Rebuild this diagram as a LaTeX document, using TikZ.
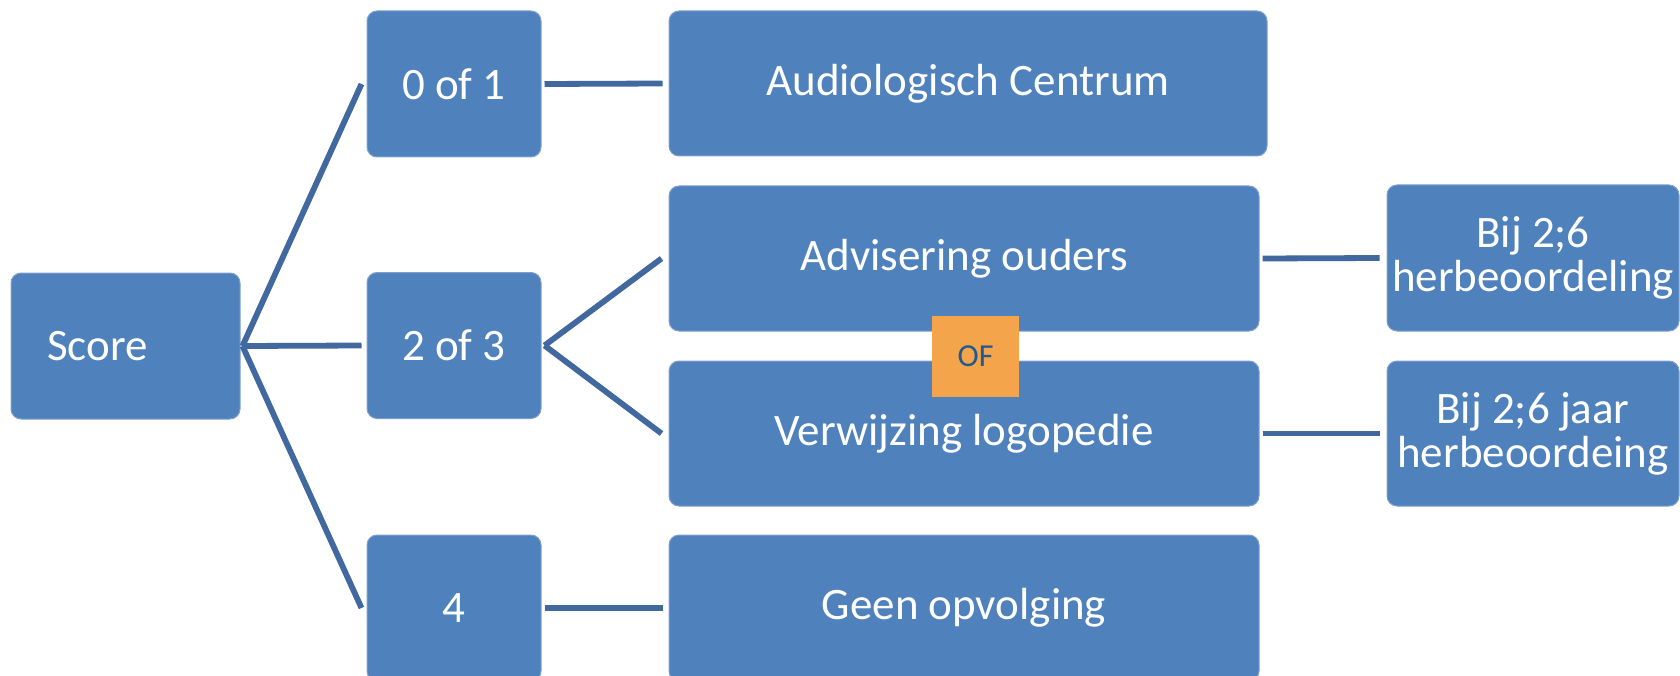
\documentclass[tikz,border=0pt]{standalone}
\usepackage{fontspec}
\setmainfont{Carlito}
\definecolor{boxblue}{HTML}{4F81BD}
\definecolor{boxedge}{HTML}{7FA0CF}
\definecolor{linkblue}{HTML}{4169A0}
\definecolor{oforange}{HTML}{F4A44A}
\definecolor{ofblue}{HTML}{1F5A94}
\tikzset{
  card/.style={rectangle, rounded corners=10pt, fill=boxblue, draw=boxedge, line width=1pt,
    text=white, font=\fontsize{45}{44}\selectfont, align=center, inner sep=0pt},
  link/.style={draw=linkblue, line width=5.8pt},
  orbox/.style={rectangle, fill=oforange, text=ofblue, font=\fontsize{32}{36}\selectfont,
    minimum width=87pt, minimum height=81pt, inner sep=0pt}
}
\begin{document}
\begin{tikzpicture}[x=1pt,y=-1pt]
\useasboundingbox (0,0) rectangle (1680,676);
\begin{scope}
\clip (0,0) rectangle (1680,676);
\node[card, minimum width=229pt, minimum height=146pt, text width=157pt, align=left] (score) at (125.5,346) {Score};
\node[card, minimum width=174pt, minimum height=146pt] (zero) at (454,84) {0 of 1};
\node[card, minimum width=174pt, minimum height=146pt] (two) at (454,345.5) {2 of 3};
\node[card, minimum width=174pt, minimum height=146pt] (four) at (454,608) {4};
\node[card, minimum width=598pt, minimum height=145pt] (audio) at (968,83.5) {Audiologisch Centrum};
\node[card, minimum width=590pt, minimum height=145pt] (advies) at (964,258.5) {Advisering ouders};
\node[card, minimum width=590pt, minimum height=145pt] (logo) at (964,433.5) {Verwijzing logopedie};
\node[card, minimum width=590pt, minimum height=146pt] (geen) at (964,608) {Geen opvolging};
\node[card, minimum width=292pt, minimum height=146pt] (bij1) at (1533,258) {Bij 2;6\\herbeoordeling};
\node[card, minimum width=292pt, minimum height=145pt] (bij2) at (1533,433.5) {Bij 2;6 jaar\\herbeoordeing};
\node[orbox] (of) at (975.5,356.5) {OF};

\coordinate (fork) at ([xshift=2pt]score.east);
\coordinate (split) at ([xshift=3pt]two.east);
\draw[link] (fork) -- ([xshift=-5pt]zero.west);
\draw[link] (fork) -- ([xshift=-5pt]two.west);
\draw[link] (fork) -- ([xshift=-5pt]four.west);
\draw[link] ([xshift=3pt]zero.east) -- ([xshift=-6pt]audio.west);
\draw[link] (split) -- ([xshift=-7pt]advies.west);
\draw[link] (split) -- ([xshift=-7pt]logo.west);
\draw[link] ([xshift=3pt]four.east) -- ([xshift=-6pt]geen.west);
\draw[link] ([xshift=3pt]advies.east) -- ([xshift=-7pt]bij1.west);
\draw[link] ([xshift=3pt]logo.east) -- ([xshift=-7pt]bij2.west);
\end{scope}
\end{tikzpicture}
\end{document}
